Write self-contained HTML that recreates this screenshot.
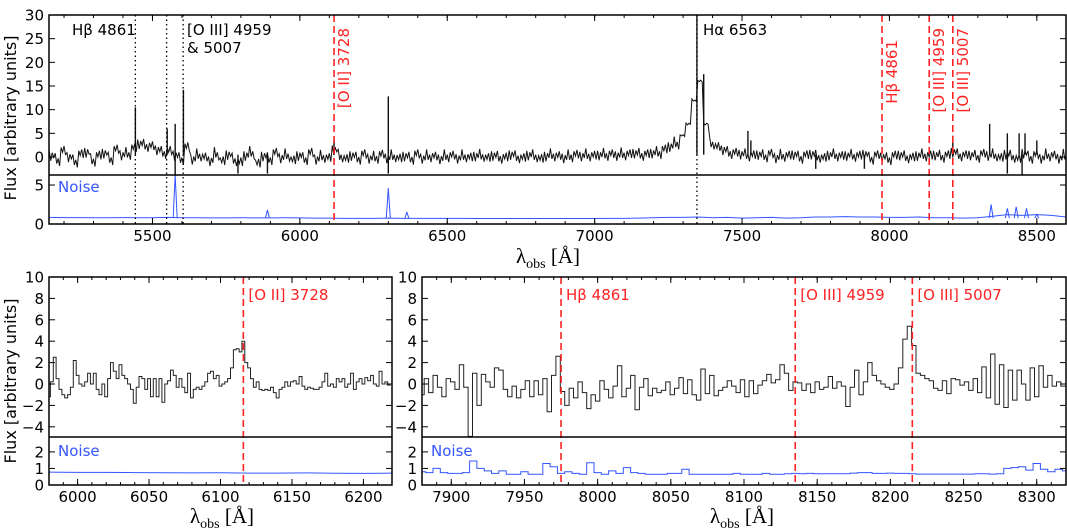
<!DOCTYPE html>
<html><head><meta charset="utf-8"><style>
body{margin:0;background:#fff;}
svg{display:block;font-family:"DejaVu Sans","Liberation Sans",sans-serif;}
</style></head><body>
<svg id="fig" width="1067" height="531" viewBox="0 0 1067 531" xmlns="http://www.w3.org/2000/svg"></svg>
<script>
// ---------- DATA ----------
const topStart = 5150, topStep = 20;
const topFlux = [
0.3,-0.5,1.2,0.0,-0.8,0.5,1.0,-0.6,0.2,0.8,
-0.3,1.5,0.4,0.8,1.8,2.8,2.5,2.2,1.5,1.0,
1.2,0.3,-0.3,2.0,-0.5,0.5,-0.2,-0.8,0.8,-1.0,
0.5,-0.5,-1.2,0.3,1.0,-1.5,0.2,-0.3,0.8,-0.2,
0.5,-0.8,0.3,-0.3,0.8,-0.5,0.2,-0.3,1.5,0.3,
-0.5,0.3,-0.2,0.5,-0.3,0.0,0.4,-0.2,0.3,-0.4,
0.2,-0.2,0.5,-0.3,0.3,0.0,-0.4,0.3,0.2,-0.3,
0.3,-0.2,0.2,0.4,-0.3,0.3,0.0,-0.2,0.5,0.1,
-0.3,0.4,0.3,-0.5,0.2,0.5,0.1,-0.2,0.3,0.4,
0.2,0.5,0.2,0.4,0.6,0.5,0.3,0.7,0.5,0.8,
0.6,0.5,0.8,1.0,1.5,2.2,3.0,4.5,7.0,12.0,
16.0,7.0,3.0,2.0,1.5,1.0,0.8,0.6,0.5,0.3,
0.5,0.3,0.6,-0.2,0.4,0.2,0.5,0.0,0.3,0.6,
0.2,-0.3,0.4,0.5,0.1,0.3,0.4,0.2,0.6,-0.2,
0.3,0.0,-0.3,0.2,0.4,0.1,-0.2,0.3,0.5,0.2,
0.4,0.2,0.3,1.0,0.5,0.3,0.4,0.2,0.6,0.3,
0.5,-0.3,0.6,0.2,-0.5,0.8,0.0,0.4,-0.3,0.5,
0.2,-0.3,0.4];
const jitter = [0.9,-1.1,0.6,-0.4,1.3,-0.9,0.2,-1.4,0.8,-0.2,1.1,-0.7];
const spikeWave = [5442,5550,5577,5605,6116,6300,7347,7370,7520,7530,8215,8340,8400,8440,8460,8500,5577,5790,5890,6300,7750,7915,8400,8450];
const spikeFlux = [10.5,6,7,14.2,3.5,12.8,30,17.5,5.5,3.5,4.5,7,5,5,5,3.5,-3.8,-3.5,-3.5,-3.5,-2.5,-2.5,-3.5,-3.8];
const noiseTopStart = 5150, noiseTopStep = 50;
const noiseTop = [0.85,0.82,0.82,0.8,0.8,0.82,0.8,0.8,0.85,0.8,
0.8,0.78,0.78,0.8,0.78,0.78,0.8,0.78,0.76,0.76,
0.72,0.72,0.72,0.75,0.72,0.72,0.72,0.72,0.72,0.7,
0.7,0.7,0.7,0.7,0.7,0.7,0.7,0.7,0.72,0.72,
0.75,0.8,0.85,0.85,0.9,0.8,0.85,0.75,0.8,0.85,
0.75,0.8,0.9,0.9,0.95,0.9,0.9,0.85,0.85,0.9,
0.8,0.8,0.75,0.8,1.0,1.2,1.1,1.2,1.1,0.9];
const noiseSpikeWave = [5577,5890,6300,6363,8345,8400,8430,8465,8500];
const noiseSpikeVal = [6.3,1.8,4.6,1.5,2.5,2.0,2.2,2.0,1.2];
const blStart = 5980, blStep = 2;
const blFlux = [-1.2,0.2,2.5,0.5,-0.5,-1.0,-1.3,-1.0,-0.3,2.2,0.8,0.0,-0.2,0.2,1.0,0.0,1.0,-0.5,-1.0,0.0,
-1.2,0.5,2.0,1.2,0.5,1.8,0.8,0.5,0.0,-0.5,-1.8,-0.3,0.7,0.5,-0.5,0.5,-1.2,0.5,-1.2,0.5,
-1.7,0.0,0.3,1.3,0.8,-0.3,0.5,-0.3,-0.8,1.0,-1.3,-0.5,-0.3,-0.5,-0.2,0.2,1.0,1.2,0.5,0.8,
-0.2,0.0,0.2,0.5,1.5,3.2,3.3,3.0,4.0,2.0,1.5,0.5,-0.3,0.2,-0.5,-0.6,-0.5,-0.6,-0.3,-0.8,
-1.3,-0.5,-0.3,0.2,-0.2,0.2,0.3,0.0,0.7,-0.2,-0.5,-0.3,-0.4,-0.5,-0.5,-0.3,0.2,1.0,-0.2,0.0,
-0.3,0.5,0.2,0.5,-0.3,0.0,1.0,-0.5,0.2,0.5,0.0,0.6,0.3,0.8,0.0,-0.2,1.2,0.0,0.2,-0.1];
const blNoiseStart = 5980, blNoiseStep = 20;
const blNoise = [0.78,0.76,0.76,0.75,0.74,0.73,0.74,0.72,0.72,0.73,0.71,0.70,0.72,0.70];
const brStart = 7880, brStep = 3;
const brFlux = [-1.0,0.5,-0.8,0.8,-0.3,-1.2,0.5,0.2,-0.5,1.8,
-0.3,-4.9,1.0,-2.0,0.9,0.2,-0.3,1.5,1.3,-0.5,
-1.2,-0.2,-1.3,-0.5,0.3,-1.2,0.3,-1.0,0.5,-2.6,
0.8,2.6,-0.7,-2.0,-0.4,-1.3,0.2,-0.8,-2.3,-1.0,
-1.6,0.3,-0.5,-1.3,-0.2,1.7,-1.2,-0.4,0.8,-2.4,
-0.3,0.5,-1.1,-0.4,-0.8,-0.6,0.2,-1.0,-0.4,0.6,
-0.9,0.4,-1.0,-1.5,1.4,-0.9,0.8,-1.1,-0.6,-0.3,
0.3,-0.2,-0.8,0.4,-1.2,0.3,-0.9,-0.1,0.3,0.9,
0.1,0.4,1.8,1.0,-0.6,0.2,0.1,-0.6,0.0,-0.8,
0.2,-0.5,-0.3,0.7,-0.4,0.2,-0.2,-2.1,-0.3,1.3,
-1.0,0.2,2.0,0.8,0.3,0.0,-0.3,-0.5,0.0,1.5,
4.2,5.4,3.6,1.0,0.8,0.5,0.3,-0.4,-0.6,0.3,
-0.9,0.5,0.4,-0.1,0.2,-0.6,0.5,-0.8,1.6,-1.3,
2.8,-1.9,1.8,-2.2,1.3,-1.5,1.3,0.0,-1.5,1.5,
-1.2,1.7,-0.3,0.8,-0.2,0.2,-0.2];
const brNoiseStart = 7880, brNoiseStep = 5;
const brNoise = [0.8,0.75,1.0,0.75,0.7,0.7,0.75,1.45,1.0,0.85,
0.7,0.85,0.65,0.65,0.8,0.65,0.65,1.3,1.1,0.7,
0.8,0.7,0.65,1.35,0.75,0.65,0.85,0.7,1.05,0.75,
0.7,0.65,0.65,0.65,0.7,0.7,0.95,0.65,0.65,0.65,
0.65,0.65,0.65,0.7,0.65,0.65,0.65,0.7,0.65,0.65,
0.68,0.7,0.68,0.7,0.68,0.68,0.68,0.68,0.68,0.72,
0.75,0.75,0.7,0.7,0.72,0.7,0.7,0.68,0.66,0.66,
0.66,0.66,0.66,0.66,0.66,0.66,0.68,0.68,0.66,0.68,
1.0,1.05,1.1,0.9,1.3,0.95,0.8,0.95,0.85];
const redLines = [6116,7975,8135,8215];
const dottedLines = [5442,5548,5604,7347];

// ---------- HELPERS ----------
const NS="http://www.w3.org/2000/svg";
const svg=document.getElementById('fig');
function mk(tag,attrs,parent){const e=document.createElementNS(NS,tag);for(const k in attrs)e.setAttribute(k,attrs[k]);(parent||svg).appendChild(e);return e;}
function lin(d0,d1,r0,r1){return v=>r0+(v-d0)*(r1-r0)/(d1-d0);}
let clipN=0;
function clip(x0,y0,x1,y1){const id='c'+(clipN++);const cp=mk('clipPath',{id:id});mk('rect',{x:x0,y:y0,width:x1-x0,height:y1-y0},cp);return 'url(#'+id+')';}
function text(str,x,y,opt,name){const t=mk('text',Object.assign({x:x,y:y,'font-size':15,fill:'#000'},opt||{}));t.textContent=str;return t;}
function stepPath(start,step,vals,X,Y){let d='';vals.forEach((v,i)=>{const a=X(start+i*step-step/2),b=X(start+i*step+step/2),y=Y(v);d+=(i?'L':'M')+a.toFixed(1)+','+y.toFixed(1)+'L'+b.toFixed(1)+','+y.toFixed(1);});return d;}
function frame(x0,y0,x1,y1,name){const r=mk('rect',{x:x0,y:y0,width:x1-x0,height:y1-y0,fill:'none',stroke:'#000','stroke-width':1.5});}
function yTicks(vals,Y,x0,x1,name,len){vals.forEach(v=>{const y=Y(v);mk('line',{x1:x0,y1:y,x2:x0+len,y2:y,stroke:'#000'});mk('line',{x1:x1,y1:y,x2:x1-len,y2:y,stroke:'#000'});text(v<0?'\u2212'+(-v):String(v),x0-5,y+5.5,{'text-anchor':'end','font-size':15},name);});}
function xTicks(major,minor,X,yTop,yBot,name,labels){minor.forEach(v=>{const x=X(v);mk('line',{x1:x,y1:yBot,x2:x,y2:yBot-3,stroke:'#000'});mk('line',{x1:x,y1:yTop,x2:x,y2:yTop+3,stroke:'#000'});});major.forEach(v=>{const x=X(v);mk('line',{x1:x,y1:yBot,x2:x,y2:yBot-6,stroke:'#000'});mk('line',{x1:x,y1:yTop,x2:x,y2:yTop+6,stroke:'#000'});if(labels)text(String(v),x,yBot+17,{'text-anchor':'middle','font-size':15},name);});}
function range(a,b,s){const r=[];for(let v=a;v<=b+1e-9;v+=s)r.push(v);return r;}
function xlabel(cx,y,name){const t=mk('text',{x:cx,y:y,'text-anchor':'middle','font-size':21,'font-family':'"Liberation Serif","DejaVu Serif",serif',fill:'#000'});
 const a=mk('tspan',{},t);a.textContent='\u03bb';const b=mk('tspan',{'font-size':14,dy:5},t);b.textContent='obs';const c=mk('tspan',{dy:-5},t);c.textContent=' [\u00c5]';}
function ylabel(x,cy,name){text('Flux [arbitrary units]',x,cy,{'text-anchor':'middle','font-size':16,transform:'rotate(-90 '+x+' '+cy+')'},name);}

// ---------- TOP PANEL ----------
const TX=lin(5149,8599,49,1066);
const TY=lin(0,30,157,15);
const TN=lin(0,6.28,224,175);
const cTop=clip(49,15,1066,175), cTopN=clip(49,175,1066,224);
let d='';
topFlux.forEach((v,i)=>{for(let k=0;k<4;k++){const w=topStart+i*topStep+k*5;const val=v+jitter[(i*4+k)%jitter.length]*(Math.abs(v)>4?0.2:1);d+=(i||k?'L':'M')+TX(w).toFixed(1)+','+TY(val).toFixed(1);}});
const sp=mk('path',{d:d,fill:'none',stroke:'#111','stroke-width':1,'clip-path':cTop});

spikeWave.forEach((w,i)=>{const l=mk('line',{x1:TX(w),x2:TX(w),y1:TY(0.5),y2:TY(spikeFlux[i]),stroke:'#111','stroke-width':1.4,'clip-path':cTop});});
let dn='';noiseTop.forEach((v,i)=>{dn+=(i?'L':'M')+TX(noiseTopStart+i*noiseTopStep).toFixed(1)+','+TN(v).toFixed(1);});
const np=mk('path',{d:dn,fill:'none',stroke:'#3355ff','stroke-width':1,'clip-path':cTopN});
noiseSpikeWave.forEach((w,i)=>{const l=mk('path',{d:'M'+(TX(w)-2)+','+TN(0.75)+'L'+TX(w)+','+TN(noiseSpikeVal[i])+'L'+(TX(w)+2)+','+TN(0.75),fill:'none',stroke:'#3355ff','stroke-width':1,'clip-path':cTopN});});
dottedLines.forEach(w=>{const l=mk('line',{x1:TX(w),x2:TX(w),y1:15,y2:224,stroke:'#000','stroke-width':1.3,'stroke-dasharray':'1.5,3'});});
redLines.forEach(w=>{const l=mk('line',{x1:TX(w),x2:TX(w),y1:15,y2:224,stroke:'#ff2222','stroke-width':1.6,'stroke-dasharray':'7,4'});});
frame(49,15,1066,224,'top-panel-frame');
yTicks([0,5,10,15,20,25,30],TY,49,1066,'top-y-tick-label',6);
yTicks([0,5],TN,49,1066,'top-noise-tick-label',6);
xTicks(range(5500,8500,500),range(5200,8500,100),TX,15,224,'top-x-tick-label',true);
mk('line',{x1:49,x2:1066,y1:175,y2:175,stroke:'#000','stroke-width':1.5});
text('H\u03b2 4861',72,35,{'font-size':15},'hbeta-label-black');
text('[O III] 4959',187,35,{'font-size':15},'oiii-label-black');
text('& 5007',187,53,{'font-size':15},'oiii-5007-label-black');
text('H\u03b1 6563',703,35,{'font-size':15},'halpha-label');
text('Noise',58,192,{'font-size':15,fill:'#3355ff'},'top-noise-label');
[['[O II] 3728',TX(6116)+15,28],['H\u03b2 4861',TX(7975)+15,40],['[O III] 4959',TX(8135)+15,28],['[O III] 5007',TX(8215)+15,28]].forEach(a=>{text(a[0],a[1],a[2],{'font-size':15,fill:'#ff2222','text-anchor':'end',transform:'rotate(-90 '+a[1]+' '+a[2]+')'},'red-rotated-line-label');});
ylabel(16,118,'top-y-axis-title');
xlabel(548,263,'top-x-axis-title');

// ---------- BOTTOM LEFT ----------
const LX=lin(5980,6220,49,392);
const BY=lin(0,10,384,277);
const BN=lin(0,2.9,485,437);
const cBL=clip(49,277,392,437), cBLN=clip(49,437,392,485);
const blp=mk('path',{d:stepPath(blStart,blStep,blFlux,LX,BY),fill:'none',stroke:'#222','stroke-width':1,'clip-path':cBL});
let dl='';blNoise.forEach((v,i)=>{dl+=(i?'L':'M')+LX(blNoiseStart+i*blNoiseStep).toFixed(1)+','+BN(v).toFixed(1);});
const bln=mk('path',{d:dl,fill:'none',stroke:'#3355ff','stroke-width':1,'clip-path':cBLN});
{const l=mk('line',{x1:LX(6116),x2:LX(6116),y1:277,y2:485,stroke:'#ff2222','stroke-width':1.6,'stroke-dasharray':'7,4'});}
frame(49,277,392,485,'bottom-left-frame');
mk('line',{x1:49,x2:392,y1:437,y2:437,stroke:'#000','stroke-width':1.5});
yTicks([-4,-2,0,2,4,6,8,10],BY,49,392,'bl-y-tick-label',6);
yTicks([0,1,2],BN,49,392,'bl-noise-tick-label',6);
xTicks(range(6000,6200,50),range(5990,6220,10),LX,277,485,'bl-x-tick-label',true);
text('[O II] 3728',LX(6116)+5,300,{'font-size':15,fill:'#ff2222'},'oii-label');
text('Noise',58,456,{'font-size':15,fill:'#3355ff'},'bl-noise-label');
ylabel(16,381,'bottom-y-axis-title');
xlabel(222,523,'bl-x-axis-title');

// ---------- BOTTOM RIGHT ----------
const RX=lin(7880,8320,422,1066);
const cBR=clip(422,277,1066,437), cBRN=clip(422,437,1066,485);
const brp=mk('path',{d:stepPath(brStart,brStep,brFlux,RX,BY),fill:'none',stroke:'#222','stroke-width':1,'clip-path':cBR});
const brn=mk('path',{d:stepPath(brNoiseStart,brNoiseStep,brNoise,RX,BN),fill:'none',stroke:'#3355ff','stroke-width':1,'clip-path':cBRN});
[7975,8135,8215].forEach(w=>{const l=mk('line',{x1:RX(w),x2:RX(w),y1:277,y2:485,stroke:'#ff2222','stroke-width':1.6,'stroke-dasharray':'7,4'});});
frame(422,277,1066,485,'bottom-right-frame');
mk('line',{x1:422,x2:1066,y1:437,y2:437,stroke:'#000','stroke-width':1.5});
yTicks([-4,-2,0,2,4,6,8,10],BY,422,1066,'br-y-tick-label',6);
yTicks([0,1,2],BN,422,1066,'br-noise-tick-label',6);
xTicks(range(7900,8300,50),range(7890,8320,10),RX,277,485,'br-x-tick-label',true);
text('H\u03b2 4861',RX(7975)+5,300,{'font-size':15,fill:'#ff2222'},'br-hbeta-label');
text('[O III] 4959',RX(8135)+5,300,{'font-size':15,fill:'#ff2222'},'br-oiii4959-label');
text('[O III] 5007',RX(8215)+5,300,{'font-size':15,fill:'#ff2222'},'br-oiii5007-label');
text('Noise',431,456,{'font-size':15,fill:'#3355ff'},'br-noise-label');
xlabel(742,523,'br-x-axis-title');
</script>
</body></html>
